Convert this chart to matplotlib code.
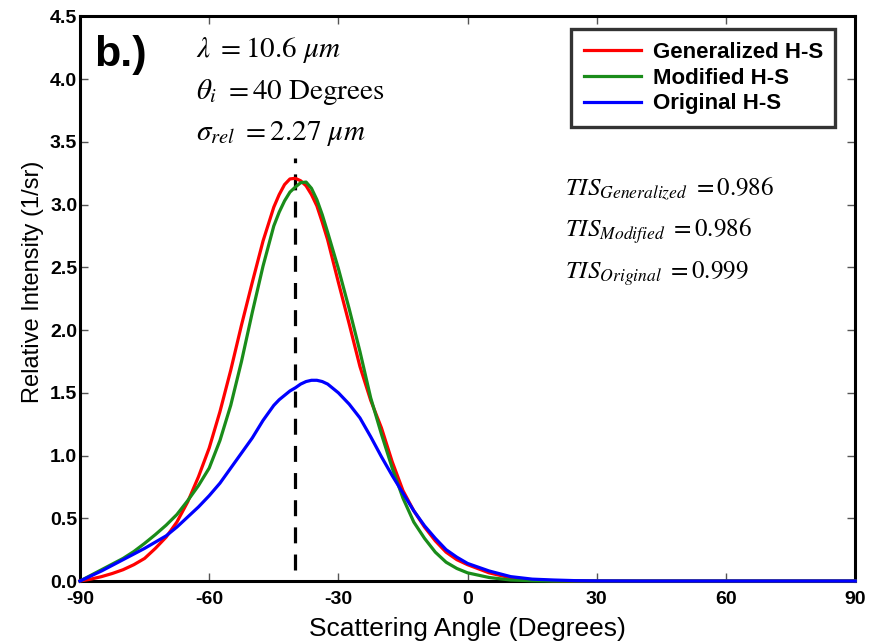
import matplotlib
matplotlib.use("Agg")
import matplotlib.pyplot as plt

# Scattering angle samples (degrees)
angle = [-90, -87.5, -85, -82.5, -80, -77.5, -75, -72.5, -70, -67.5, -65,
         -62.5, -60, -57.5, -55, -52.5, -50, -47.5, -45, -43.75, -42.5,
         -41.25, -40, -38.75, -37.5, -36.25, -35, -33.75, -32.5, -30, -27.5,
         -25, -22.5, -20, -17.5, -15, -12.5, -10, -7.5, -5, -2.5, 0, 5, 10,
         15, 20, 25, 30, 40, 50, 60, 70, 80, 90]

# Relative intensity (1/sr) for each model
generalized = [0.0, 0.015, 0.035, 0.06, 0.09, 0.13, 0.18, 0.26, 0.35, 0.47,
               0.63, 0.83, 1.06, 1.35, 1.68, 2.04, 2.38, 2.71, 2.98, 3.08,
               3.16, 3.205, 3.21, 3.19, 3.15, 3.08, 2.99, 2.86, 2.72, 2.38,
               2.05, 1.71, 1.44, 1.22, 0.95, 0.72, 0.56, 0.43, 0.32, 0.23,
               0.17, 0.13, 0.065, 0.025, 0.008, 0.002, 0.0, 0.0, 0.0, 0.0,
               0.0, 0.0, 0.0, 0.0]
modified = [0.0, 0.045, 0.09, 0.135, 0.18, 0.235, 0.30, 0.37, 0.445, 0.53,
            0.64, 0.76, 0.90, 1.12, 1.40, 1.75, 2.14, 2.51, 2.83, 2.94,
            3.03, 3.10, 3.14, 3.175, 3.18, 3.13, 3.04, 2.92, 2.78, 2.49,
            2.17, 1.83, 1.46, 1.17, 0.90, 0.66, 0.47, 0.34, 0.23, 0.15,
            0.10, 0.065, 0.028, 0.008, 0.002, 0.0, 0.0, 0.0, 0.0, 0.0,
            0.0, 0.0, 0.0, 0.0]
original = [0.0, 0.04, 0.08, 0.125, 0.17, 0.215, 0.26, 0.31, 0.36, 0.43,
            0.51, 0.59, 0.68, 0.78, 0.90, 1.02, 1.14, 1.28, 1.40, 1.445,
            1.48, 1.515, 1.54, 1.57, 1.59, 1.60, 1.60, 1.59, 1.57, 1.50,
            1.41, 1.30, 1.15, 0.99, 0.84, 0.70, 0.56, 0.44, 0.34, 0.25,
            0.19, 0.14, 0.08, 0.035, 0.015, 0.008, 0.003, 0.001, 0.0, 0.0,
            0.0, 0.0, 0.0, 0.0]

incidence = -40
marker_y = [0.09, 3.37]

x_ticks = [-90, -60, -30, 0, 30, 60, 90]
y_ticks = [0.0, 0.5, 1.0, 1.5, 2.0, 2.5, 3.0, 3.5, 4.0, 4.5]

plt.rcParams['mathtext.fontset'] = 'stix'
sans = ['Liberation Sans', 'DejaVu Sans']

fig = plt.figure(figsize=(8.76, 6.43), dpi=100)
ax = fig.add_axes([0.0913, 0.0964, 0.885, 0.878])

ax.plot(angle, generalized, color='#ff0000', lw=2.3, label='Generalized H-S',
        zorder=4, clip_on=False, solid_joinstyle='round')
ax.plot(angle, modified, color='#1a8c1a', lw=2.3, label='Modified H-S',
        zorder=4, clip_on=False, solid_joinstyle='round')
ax.plot(angle, original, color='#0000ff', lw=2.3, label='Original H-S',
        zorder=4, clip_on=False, solid_joinstyle='round')
ax.plot([incidence, incidence], marker_y, color='black', lw=2.3,
        linestyle=(0, (5, 3.5)), zorder=3)

ax.set_xlim(-90, 90)
ax.set_ylim(0, 4.5)
ax.set_xticks(x_ticks)
ax.set_yticks(y_ticks)
ax.set_xticklabels([str(t) for t in x_ticks], fontfamily=sans,
                   fontweight='bold', fontsize=14)
ax.set_yticklabels([f"{t:.1f}" for t in y_ticks], fontfamily=sans,
                   fontweight='bold', fontsize=14)
ax.tick_params(direction='in', length=6, width=1, color='#555555',
               top=True, right=True)
ax.tick_params(axis='x', pad=7)
ax.tick_params(axis='y', pad=2)

for sp in ax.spines.values():
    sp.set_linewidth(2.2)
    sp.set_color('black')

ax.set_xlabel('Scattering Angle (Degrees)', fontfamily=sans, fontsize=19,
              labelpad=7)
ax.set_ylabel('Relative Intensity (1/sr)', fontfamily=sans, fontsize=17)
ax.yaxis.set_label_coords(-0.046, 0.53)

leg = ax.legend(loc='upper right', bbox_to_anchor=(0.974, 0.977),
                borderaxespad=0.0,
                prop={'family': sans, 'weight': 'bold', 'size': 16},
                frameon=True, fancybox=False, handlelength=2.6,
                borderpad=0.55, labelspacing=0.22, handletextpad=0.5)
leg.get_frame().set_edgecolor('black')
leg.get_frame().set_linewidth(2.4)

fig.text(0.108, 0.915, 'b.)', fontfamily=sans, fontweight='bold',
         fontsize=31, va='center', ha='left')

params = [r'$\lambda\ = \mathrm{10.6}\ \mu m$',
          r'$\theta_i\ = \mathrm{40\ Degrees}$',
          r'$\sigma_{rel}\ = \mathrm{2.27}\ \mu m$']
for i, s in enumerate(params):
    fig.text(0.224, 0.922 - i * 0.065, s, fontsize=21, va='center', ha='left')

tis = [r'$TIS_{Generalized}\ = \mathrm{0.986}$',
       r'$TIS_{Modified}\ = \mathrm{0.986}$',
       r'$TIS_{Original}\ = \mathrm{0.999}$']
for i, s in enumerate(tis):
    fig.text(0.645, 0.705 - i * 0.065, s, fontsize=18, va='center', ha='left')

fig.savefig('out.png', dpi=100)
